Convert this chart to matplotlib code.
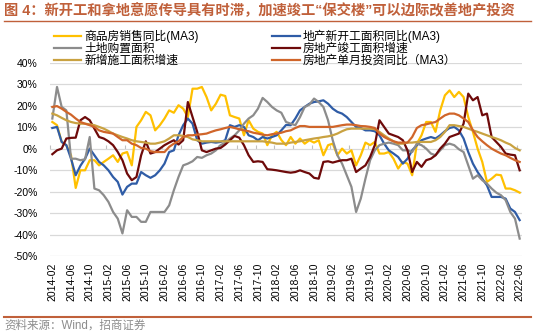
import matplotlib
matplotlib.use("Agg")
import matplotlib.pyplot as plt
import numpy as np
import pandas as pd

plt.rcParams['font.family'] = ['Liberation Sans', 'Noto Sans CJK SC', 'DejaVu Sans']

months = pd.date_range("2014-02-01", "2022-06-01", freq="MS").strftime("%Y-%m").tolist()

sales_ma3 = [12.4, 10.9, 3.1, 1.6, -3.1, -18.3, -10.1, -10.1, -5.4, -5.4, -7.8, -6.2, -4.7, -3.1, -6.2, -2.3,
             -1.6, -7.8, 10.1, 13.2, 17.1, 15.5, 8.5, 10.9, 14.0, 17.8, 16.7, 20.2, 18.6, 14.7, 27.9, 27.9,
             28.7, 24.0, 17.8, 20.9, 25.1, 24.5, 15.5, 14.7, 14.0, 6.2, 13.2, 9.3, 7.8, 7.0, 1.6, 6.2,
             7.8, 4.0, 1.6, 5.4, 2.3, 4.7, 2.3, 3.9, 2.8, 3.9, -3.1, 1.6, 2.3, -3.1, 0.0, -2.3,
             -0.8, -7.8, -3.1, 2.8, 1.6, 3.1, -2.3, -2.3, -1.6, -4.7, -9.3, -6.2, -7.0, -12.4, 2.3, 6.2,
             12.4, 12.4, 7.8, 17.8, 24.8, 27.1, 24.0, 26.4, 24.0, 14.7, 7.8, 0.0, -6.2, -15.5, -14.0, -12.1,
             -12.4, -18.6, -18.6, -19.4, -20.5]

newstart_ma3 = [9.6, 10.1, 3.1, 1.6, -4.7, -12.4, -8.0, -4.7, 0.0, -3.1, -6.2, -7.8, -10.1, -13.2, -15.5, -21.4,
                -17.8, -16.3, -16.3, -10.9, -12.4, -13.6, -12.4, -10.1, -7.0, -1.6, -0.8, 6.2, 10.9, 14.0, 11.6, 3.9,
                2.3, 2.8, 3.1, 2.8, 3.1, 3.9, 10.9, 10.1, 10.9, 10.1, 6.2, 5.4, 3.9, 5.4, 4.7, 5.4,
                6.2, 8.5, 11.0, 10.9, 14.0, 17.8, 19.4, 20.9, 21.7, 22.0, 22.5, 20.9, 18.6, 17.1, 16.3, 14.7,
                12.4, 10.1, 9.6, 8.5, 8.5, 8.1, 6.2, 2.3, -0.8, -2.3, -3.9, -7.0, -4.7, -0.8, 1.6, 3.9,
                4.7, 5.4, 4.7, 6.2, 8.1, 9.6, 10.1, 8.5, 4.7, -1.6, -7.0, -10.9, -14.0, -17.1, -22.5, -22.5,
                -22.5, -23.3, -27.9, -29.5, -33.3]

land = [14.0, 28.7, 19.4, 17.8, -4.7, -4.7, -5.4, -5.0, 5.4, -18.6, -19.4, -21.7, -24.8, -29.5, -32.6, -39.5,
        -28.7, -31.8, -31.8, -34.1, -34.1, -29.5, -29.5, -29.5, -29.5, -26.4, -19.4, -13.2, -7.8, -7.0, -5.9, -3.9,
        -4.3, -3.1, -2.3, -0.8, 1.6, 2.8, 4.7, 6.2, 8.5, 11.6, 14.0, 15.5, 18.6, 23.6, 21.7, 19.4,
        17.8, 16.7, 12.4, 11.6, 10.9, 14.7, 19.4, 20.5, 23.3, 21.7, 19.4, 13.2, 3.9, -3.1, -7.0, -12.4,
        -17.8, -29.5, -23.3, -14.0, -5.4, -0.8, 1.6, 2.3, 2.8, 2.3, 1.6, -0.8, -0.8, -1.6, 2.3, 1.6,
        0.0, -2.3, -3.1, -0.8, 1.6, 2.3, 1.6, -0.3, -1.6, -7.8, -14.0, -12.4, -14.7, -16.3, -18.6, -20.5,
        -21.7, -24.0, -29.5, -32.6, -41.9]

completion = [-2.6, -0.8, 0.0, 4.7, 5.0, 5.1, 13.2, 14.7, 13.2, 9.3, 5.4, 4.7, 3.4, 1.6, -1.6, -5.4,
              -11.6, -14.7, -13.2, -3.1, 3.4, -2.3, -1.6, 0.0, 1.6, 2.8, 3.9, 1.9, 3.9, 21.7, 14.7, 7.8,
              -0.8, -1.6, -0.8, 0.0, 0.3, 1.9, 3.9, 5.9, 5.1, 1.6, -3.1, -6.2, -5.9, -6.2, -9.6, -9.8,
              -10.1, -10.5, -10.9, -11.2, -10.9, -10.1, -10.9, -11.6, -13.6, -14.0, -6.2, -5.9, -6.5, -5.9, -5.4, -5.4,
              -4.7, -10.9, -9.3, -7.8, -3.9, 1.6, 13.2, 10.1, 7.0, 6.2, 5.4, 3.9, -0.8, -10.9, -6.2, -8.5,
              -5.4, -4.7, -3.1, 0.0, 2.3, 5.4, 6.2, 7.0, 11.6, 25.6, 22.5, 24.0, 15.5, 16.3, 5.4, 3.1,
              0.8, -2.3, -2.8, -3.1, -10.1]

construction = [16.3, 15.5, 14.3, 13.2, 12.4, 11.9, 11.6, 11.6, 11.3, 10.9, 10.1, 9.3, 8.2, 7.0, 6.2, 5.4,
                4.7, 3.9, 3.4, 3.1, 2.8, 2.3, 2.3, 2.8, 3.4, 4.7, 6.2, 6.2, 5.9, 5.4, 4.3, 3.9,
                3.4, 3.4, 3.4, 3.4, 3.4, 3.4, 3.4, 3.4, 3.4, 3.4, 3.4, 3.4, 3.4, 3.4, 3.1, 2.8,
                2.3, 2.3, 2.3, 2.8, 3.1, 3.4, 3.9, 4.3, 4.7, 5.0, 5.4, 5.7, 6.2, 7.0, 8.1, 9.0,
                9.3, 9.3, 9.3, 9.3, 9.3, 9.0, 7.8, 6.2, 4.7, 3.4, 2.3, 2.3, 2.8, 2.8, 3.1, 3.1,
                3.1, 3.1, 3.9, 5.4, 7.8, 10.9, 10.9, 10.5, 10.1, 9.3, 8.5, 7.8, 7.0, 6.2, 5.4, 4.7,
                3.9, 2.8, 1.9, 0.3, -0.8]

invest_ma3 = [19.4, 19.8, 18.6, 17.1, 15.8, 14.0, 12.4, 11.6, 10.9, 10.1, 8.5, 7.8, 7.4, 7.0, 5.4, 3.9,
              3.9, 2.3, 1.6, 0.3, 0.0, -1.2, -1.6, -1.6, -1.6, 0.8, 2.3, 3.4, 5.4, 6.2, 6.2, 6.5,
              6.7, 7.0, 7.8, 8.5, 9.0, 9.6, 10.1, 9.6, 9.0, 8.5, 8.1, 7.4, 7.0, 6.5, 6.2, 6.7,
              7.0, 7.4, 8.1, 8.5, 9.6, 10.5, 10.5, 10.1, 10.1, 10.1, 10.1, 10.1, 10.1, 10.5, 10.9, 11.2,
              11.2, 10.9, 10.5, 10.4, 10.1, 9.6, 7.0, 5.4, 4.3, 3.4, 2.8, 2.8, 2.8, 5.4, 9.6, 10.9,
              11.3, 11.9, 12.4, 14.0, 15.5, 16.3, 16.3, 15.5, 14.0, 12.4, 8.5, 5.4, 3.4, 1.6, 0.0, -1.2,
              -2.3, -3.1, -4.3, -5.4, -6.2]

labels = ["商品房销售同比(MA3)", "地产新开工面积同比(MA3)", "土地购置面积",
          "房地产竣工面积增速", "新增施工面积增速", "房地产单月投资同比（MA3）"]
colors = ["#FFC000", "#2F5CA6", "#8C8C8C", "#6E0A0A", "#C9A241", "#D0652A"]
series = [sales_ma3, newstart_ma3, land, completion, construction, invest_ma3]

W, H = 535, 335
fig = plt.figure(figsize=(W / 100, H / 100), dpi=100)
ax = fig.add_axes([50 / W, (H - 256) / H, 472 / W, (256 - 62.7) / H])

x = np.arange(len(months))
handles = []
for s, lab, c in zip(series, labels, colors):
    h, = ax.plot(x, s, color=c, lw=1.6, label=lab, solid_joinstyle='round')
    handles.append(h)

ax.set_xlim(-0.5, len(months) - 0.5)
ax.set_ylim(-50, 40)
ax.set_yticks(np.arange(-50, 41, 10))
ax.set_yticklabels([f"{v}%" for v in range(-50, 41, 10)], fontsize=7.5)
ax.set_xticks(x[::4])
ax.set_xticklabels(months[::4], rotation=90, fontsize=7.5)
ax.tick_params(axis='both', length=0)
ax.tick_params(axis='y', pad=9)
ax.tick_params(axis='x', pad=5)
for sp in ax.spines.values():
    sp.set_visible(False)
ax.grid(axis='y', color='#D9D9D9', lw=0.9)
ax.set_axisbelow(True)

# category axis line at 0 with tick marks between categories
sec = ax.secondary_xaxis(50 / 90)
sec.set_xticks(np.arange(-0.5, len(months), 4))
sec.set_xticklabels([])
sec.tick_params(axis='x', direction='out', length=3, color='#BFBFBF', width=0.8)
sec.spines['bottom'].set_color('#D9D9D9')
sec.spines['bottom'].set_linewidth(0.9)
sec.spines['top'].set_visible(False)

order = [0, 2, 4, 1, 3, 5]
leg = fig.legend([handles[i] for i in order], [labels[i] for i in order], ncol=2,
                 loc='upper left', bbox_to_anchor=(54 / W, 1 - 30 / H), frameon=False,
                 fontsize=8.5, handlelength=2.3, handletextpad=0.3, columnspacing=6.2,
                 labelspacing=-0.02, borderpad=0, borderaxespad=0)

title_color = '#C0603A'
fig.text(4 / W, 1 - 11 / H, "图 4：新开工和拿地意愿传导具有时滞，加速竣工“保交楼”可以边际改善地产投资",
         fontsize=10.3, fontweight='bold', color=title_color, va='center', ha='left')
fig.add_artist(plt.Line2D([4 / W, 531 / W], [1 - 21 / H, 1 - 21 / H], color=title_color, lw=1.0))
fig.add_artist(plt.Line2D([4 / W, 531 / W], [1 - 317 / H, 1 - 317 / H], color=title_color, lw=1.5))
fig.text(4 / W, 1 - 326 / H, "资料来源：Wind，招商证券", fontsize=8.3, color='#8C8C8C',
         va='center', ha='left')

fig.savefig("out.png", dpi=100)
